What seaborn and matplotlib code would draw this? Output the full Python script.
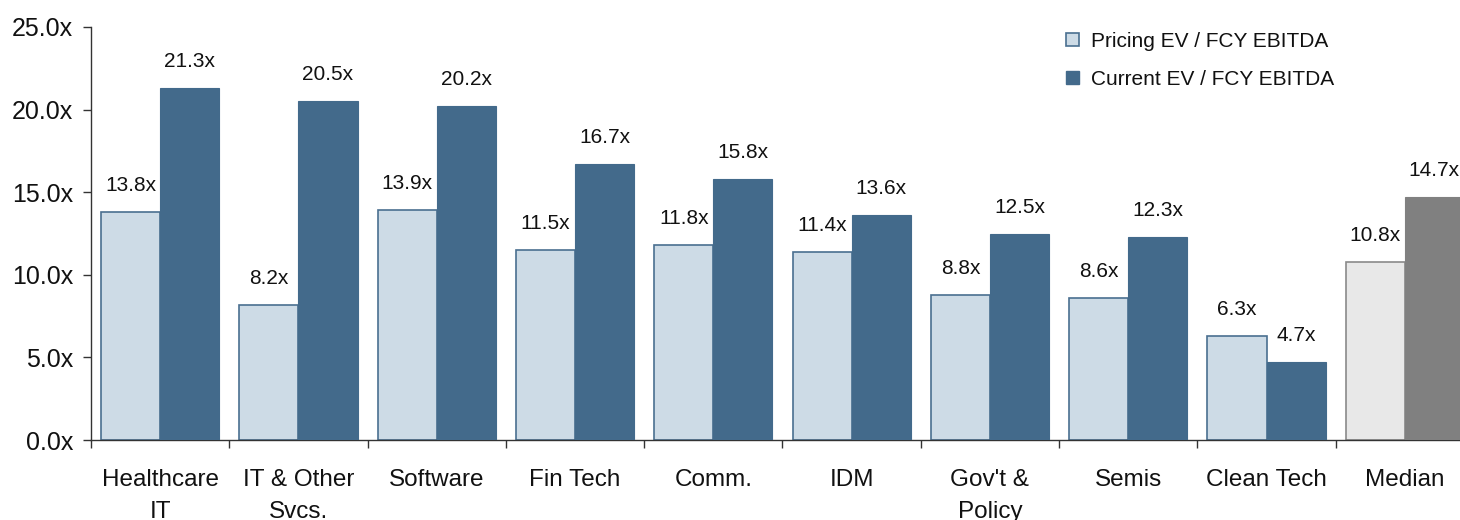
import numpy as np
import pandas as pd
import matplotlib
matplotlib.use("Agg")
import matplotlib.pyplot as plt
import matplotlib.ticker as mticker
from matplotlib.patches import Patch
import seaborn as sns

# ── Data ──────────────────────────────────────────────────────────────────────
categories = ["Healthcare\nIT", "IT & Other\nSvcs.", "Software", "Fin Tech", "Comm.",
              "IDM", "Gov't &\nPolicy", "Semis", "Clean Tech", "Median"]
pricing = [13.8, 8.2, 13.9, 11.5, 11.8, 11.4, 8.8, 8.6, 6.3, 10.8]
current = [21.3, 20.5, 20.2, 16.7, 15.8, 13.6, 12.5, 12.3, 4.7, 14.7]
series = ["Pricing EV / FCY EBITDA", "Current EV / FCY EBITDA"]

# ── Style ─────────────────────────────────────────────────────────────────────
LIGHT = "#CDDBE6"
LIGHT_EDGE = "#4A6F90"
DARK = "#436A8B"
MED_LIGHT = "#E8E8E8"
MED_EDGE = "#8A8A8A"
MED_DARK = "#808080"
TEXT = "#111111"

sns.set_style("white")
plt.rcParams.update({
    "font.family": ["Liberation Sans", "DejaVu Sans"],
    "text.color": TEXT,
    "xtick.color": TEXT,
    "ytick.color": TEXT,
})

df = pd.DataFrame({
    "category": categories * 2,
    "value": pricing + current,
    "series": [series[0]] * len(categories) + [series[1]] * len(categories),
})

fig = plt.figure(figsize=(14.6, 5.2), dpi=100)
# the last category runs slightly past the right edge of the picture
ax = fig.add_axes([0.0623, 0.1538, 0.9473, 0.7943])

sns.barplot(data=df, x="category", y="value", hue="series", order=categories,
            hue_order=series, palette=[LIGHT, DARK], width=0.855, gap=0,
            errorbar=None, legend=False, ax=ax)

light_bars, dark_bars = ax.containers[0], ax.containers[1]
for i, (lb, db) in enumerate(zip(light_bars, dark_bars)):
    median = categories[i] == "Median"
    lb.set_facecolor(MED_LIGHT if median else LIGHT)
    lb.set_edgecolor(MED_EDGE if median else LIGHT_EDGE)
    lb.set_linewidth(1.2)
    db.set_facecolor(MED_DARK if median else DARK)
    db.set_edgecolor(MED_DARK if median else DARK)
    db.set_linewidth(0.8)
    lb.set_zorder(2)
    db.set_zorder(3)

# Value labels
for cont, vals in ((light_bars, pricing), (dark_bars, current)):
    for bar, v in zip(cont, vals):
        ax.annotate(f"{v:.1f}x", (bar.get_x() + bar.get_width() / 2, v),
                    xytext=(0, 19), textcoords="offset points",
                    ha="center", va="center", fontsize=15, color=TEXT)

# Axes
ax.set_xlim(-0.5, len(categories) - 0.5)
ax.set_ylim(0, 25)
ax.yaxis.set_major_locator(mticker.MultipleLocator(5))
ax.yaxis.set_major_formatter(mticker.FuncFormatter(lambda v, _: f"{v:.1f}x"))
ax.tick_params(axis="y", labelsize=18, length=6, width=1, pad=7, direction="out",
               left=True, color="#333333")
ax.set_xticks(range(len(categories)))
ax.set_xticklabels(categories, fontsize=17.5, linespacing=1.55)
ax.tick_params(axis="x", which="major", length=0, pad=21)
ax.set_xticks(np.arange(-0.5, len(categories) - 0.4, 1), minor=True)
ax.tick_params(axis="x", which="minor", length=6, width=1, direction="out",
               bottom=True, color="#333333")
ax.set_xlabel("")
ax.set_ylabel("")

for side in ("top", "right"):
    ax.spines[side].set_visible(False)
for side in ("left", "bottom"):
    ax.spines[side].set_color("#333333")
    ax.spines[side].set_linewidth(1)

handles = [Patch(facecolor=LIGHT, edgecolor=LIGHT_EDGE, linewidth=1.2),
           Patch(facecolor=DARK, edgecolor=DARK)]
ax.legend(handles, series, loc="upper left", bbox_to_anchor=(1066 / 1460, 1 - 32 / 520),
          bbox_transform=fig.transFigure, frameon=False, fontsize=15,
          handlelength=0.6, handleheight=0.6, handletextpad=0.6, labelspacing=0.9,
          borderpad=0, borderaxespad=0)

fig.savefig("out.png", dpi=100)
plt.close(fig)
